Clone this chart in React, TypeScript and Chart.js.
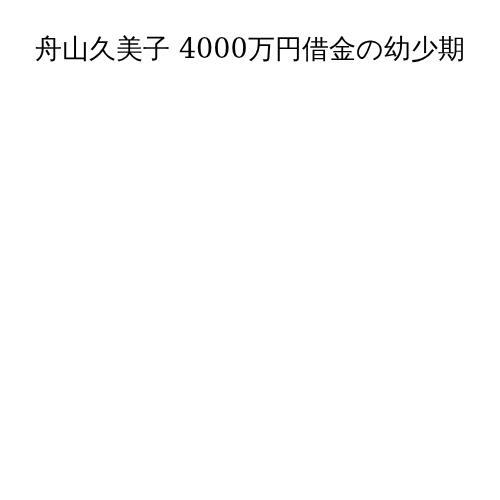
import { useEffect, useRef } from "react";
import Chart from "chart.js/auto";

const titleText = "舟山久美子 4000万円借金の幼少期";
const labels: string[] = [];
const values: number[] = [];

export default function App() {
  const canvasRef = useRef<HTMLCanvasElement | null>(null);
  const chartRef = useRef<Chart | null>(null);

  useEffect(() => {
    if (!canvasRef.current) return;
    chartRef.current?.destroy();

    chartRef.current = new Chart(canvasRef.current, {
      type: "bar",
      data: {
        labels: labels,
        datasets: [{ label: "", data: values, backgroundColor: "#4e79a7" }],
      },
      options: {
        animation: false,
        responsive: true,
        maintainAspectRatio: false,
        scales: {
          x: { display: false },
          y: { display: false },
        },
        plugins: {
          legend: { display: false },
          tooltip: { enabled: false },
          title: {
            display: true,
            text: titleText,
            color: "#000000",
            padding: { top: 27, bottom: 10 },
            font: { family: "'DejaVu Serif', serif", size: 27, weight: "normal" },
          },
        },
      },
    });

    return () => {
      chartRef.current?.destroy();
      chartRef.current = null;
    };
  }, []);

  return (
    <div style={{ width: 484, height: 484 }}>
      <canvas ref={canvasRef} />
    </div>
  );
}
